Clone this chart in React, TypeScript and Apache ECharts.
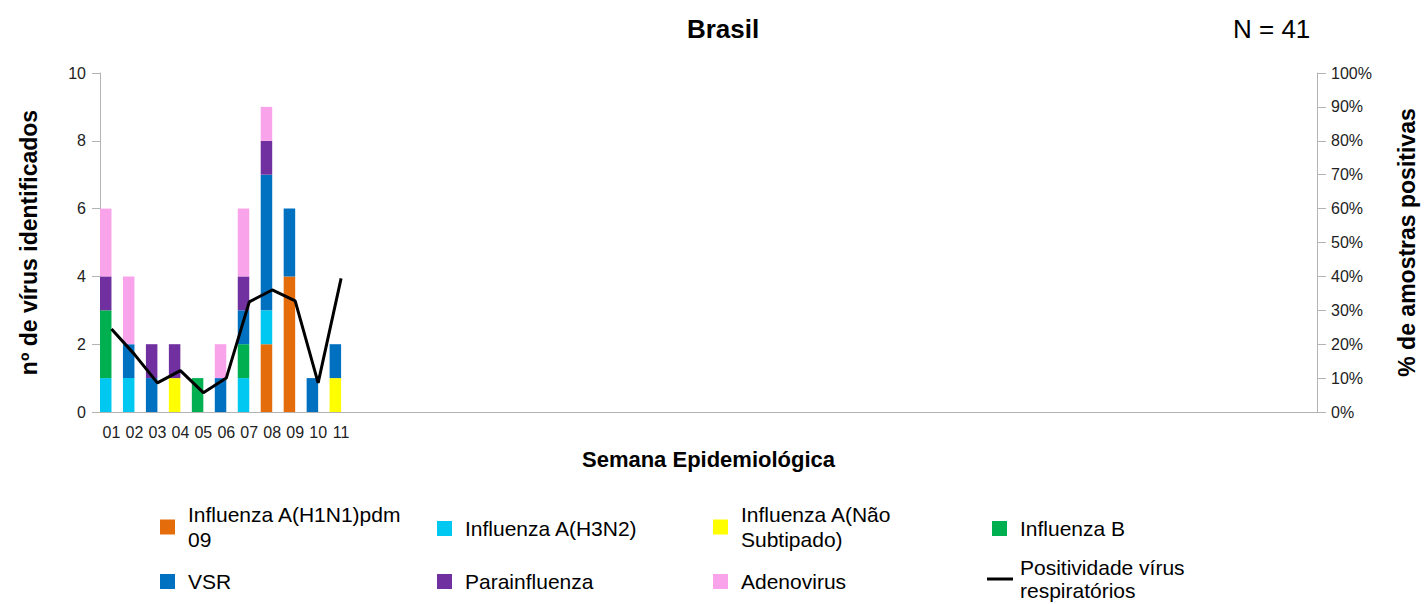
import React, { useEffect, useRef } from "react";
import * as echarts from "echarts";

const FONT = "'Liberation Sans', Arial, sans-serif";

const weeks = Array.from({ length: 53 }, (_, i) => String(i + 1).padStart(2, "0"));
const labeledWeeks = 11;

const seriesNames = [
  "Influenza A(H1N1)pdm09",
  "Influenza A(H3N2)",
  "Influenza A(Não Subtipado)",
  "Influenza B",
  "VSR",
  "Parainfluenza",
  "Adenovirus",
];
const lineName = "Positividade vírus respiratórios";

const h1n1 = [0, 0, 0, 0, 0, 0, 0, 2, 4, 0, 0];
const h3n2 = [1, 1, 0, 0, 0, 0, 1, 1, 0, 0, 0];
const naoSubtipado = [0, 0, 0, 1, 0, 0, 0, 0, 0, 0, 1];
const influenzaB = [2, 0, 0, 0, 1, 0, 1, 0, 0, 0, 0];
const vsr = [0, 1, 1, 0, 0, 1, 1, 4, 2, 1, 1];
const parainfluenza = [1, 0, 1, 1, 0, 0, 1, 1, 0, 0, 0];
const adenovirus = [2, 2, 0, 0, 0, 1, 2, 1, 0, 0, 0];
const positividade = [24.5, 17, 8.6, 12.2, 5.7, 10, 32.5, 36, 32.8, 8.6, 39.4];

const leftTicks = { min: 0, max: 10, interval: 2 };
const rightTicks = { min: 0, max: 100, interval: 10 };

const colors = ["#E46C0A", "#00C8F0", "#FFFF00", "#00B050", "#0070C0", "#7030A0", "#F9A3EA"];

const legendLabels: Record<string, string> = {
  "Influenza A(H1N1)pdm09": "Influenza A(H1N1)pdm\n09",
  "Influenza A(Não Subtipado)": "Influenza A(Não\nSubtipado)",
  [lineName]: "Positividade vírus\nrespiratórios",
};

export default function App() {
  const ref = useRef<HTMLDivElement>(null);
  useEffect(() => {
    if (!ref.current) return;
    const chart = echarts.init(ref.current, null, { renderer: "svg" });
    const values = [h1n1, h3n2, naoSubtipado, influenzaB, vsr, parainfluenza, adenovirus];
    const axisGrey = "#b3b3b3";

    const legendPos: Array<[number, number]> = [
      [160, 502],
      [437, 516],
      [713, 502],
      [992, 516],
      [160, 569],
      [437, 569],
      [713, 569],
      [987, 556],
    ];
    const allNames = [...seriesNames, lineName];
    const legends = allNames.map((name, i) => {
      const isLine = name === lineName;
      return {
        data: [name],
        left: legendPos[i][0],
        top: legendPos[i][1],
        padding: 0,
        icon: "rect",
        itemWidth: isLine ? 26 : 15,
        itemHeight: isLine ? 3 : 15,
        selectedMode: false,
        formatter: (n: string) => legendLabels[n] || n,
        textStyle: {
          fontFamily: FONT,
          fontSize: 21,
          lineHeight: isLine ? 23 : 25,
          color: "#000",
          padding: isLine ? [0, 0, 0, 2] : [0, 0, 0, 8],
        },
      };
    });

    const option: any = {
      animation: false,
      textStyle: { fontFamily: FONT },
      graphic: [
        {
          type: "text",
          x: 723,
          y: 29,
          style: {
            text: "Brasil",
            fontFamily: FONT,
            fontSize: 26,
            fontWeight: "bold",
            fill: "#000",
            textAlign: "center",
            textVerticalAlign: "middle",
          },
        },
        {
          type: "text",
          x: 1233,
          y: 29,
          style: {
            text: "N = 41",
            fontFamily: FONT,
            fontSize: 26,
            fill: "#000",
            textAlign: "left",
            textVerticalAlign: "middle",
          },
        },
      ],
      legend: legends,
      grid: { left: 100, right: 110, top: 73, height: 339 },
      xAxis: {
        type: "category",
        data: weeks,
        boundaryGap: true,
        axisLine: { lineStyle: { color: axisGrey } },
        axisTick: { interval: 0, length: 6, lineStyle: { color: axisGrey } },
        axisLabel: {
          interval: 0,
          margin: 12,
          fontSize: 16,
          color: "#222",
          formatter: (v: string, i: number) => (i < labeledWeeks ? v : ""),
        },
        name: "Semana Epidemiológica",
        nameLocation: "middle",
        nameGap: 36,
        nameTextStyle: { fontSize: 22, fontWeight: "bold", color: "#000" },
      },
      yAxis: [
        {
          type: "value",
          ...leftTicks,
          axisLine: { show: true, lineStyle: { color: axisGrey } },
          axisTick: { show: true, length: 8, lineStyle: { color: axisGrey } },
          axisLabel: { fontSize: 16, color: "#222", margin: 14 },
          splitLine: { show: false },
          name: "nº de vírus identificados",
          nameLocation: "middle",
          nameRotate: 90,
          nameGap: 60,
          nameTextStyle: { fontSize: 23, fontWeight: "bold", color: "#000" },
        },
        {
          type: "value",
          position: "right",
          ...rightTicks,
          axisLine: { show: true, lineStyle: { color: axisGrey } },
          axisTick: { show: true, length: 9, lineStyle: { color: axisGrey } },
          axisLabel: { fontSize: 16, color: "#222", margin: 14, formatter: "{value}%" },
          splitLine: { show: false },
          name: "% de amostras positivas",
          nameLocation: "middle",
          nameRotate: 90,
          nameGap: 78,
          nameTextStyle: { fontSize: 23, fontWeight: "bold", color: "#000" },
        },
      ],
      series: [
        ...seriesNames.map((name, i) => ({
          name,
          type: "bar",
          stack: "virus",
          barWidth: 11.5,
          barGap: "0%",
          itemStyle: { color: colors[i] },
          data: values[i],
        })),
        {
          name: "spacer",
          type: "bar",
          stack: "spacer",
          barWidth: 11.5,
          barGap: "0%",
          data: [],
        },
        {
          name: lineName,
          type: "line",
          yAxisIndex: 1,
          showSymbol: false,
          symbol: "none",
          itemStyle: { color: "#000" },
          lineStyle: { color: "#000", width: 3 },
          data: positividade,
        },
      ],
    };
    chart.setOption(option);
    return () => chart.dispose();
  }, []);
  return (
    <div
      ref={ref}
      style={{ position: "fixed", left: 0, top: 0, width: 1427, height: 604, background: "#fff" }}
    />
  );
}
